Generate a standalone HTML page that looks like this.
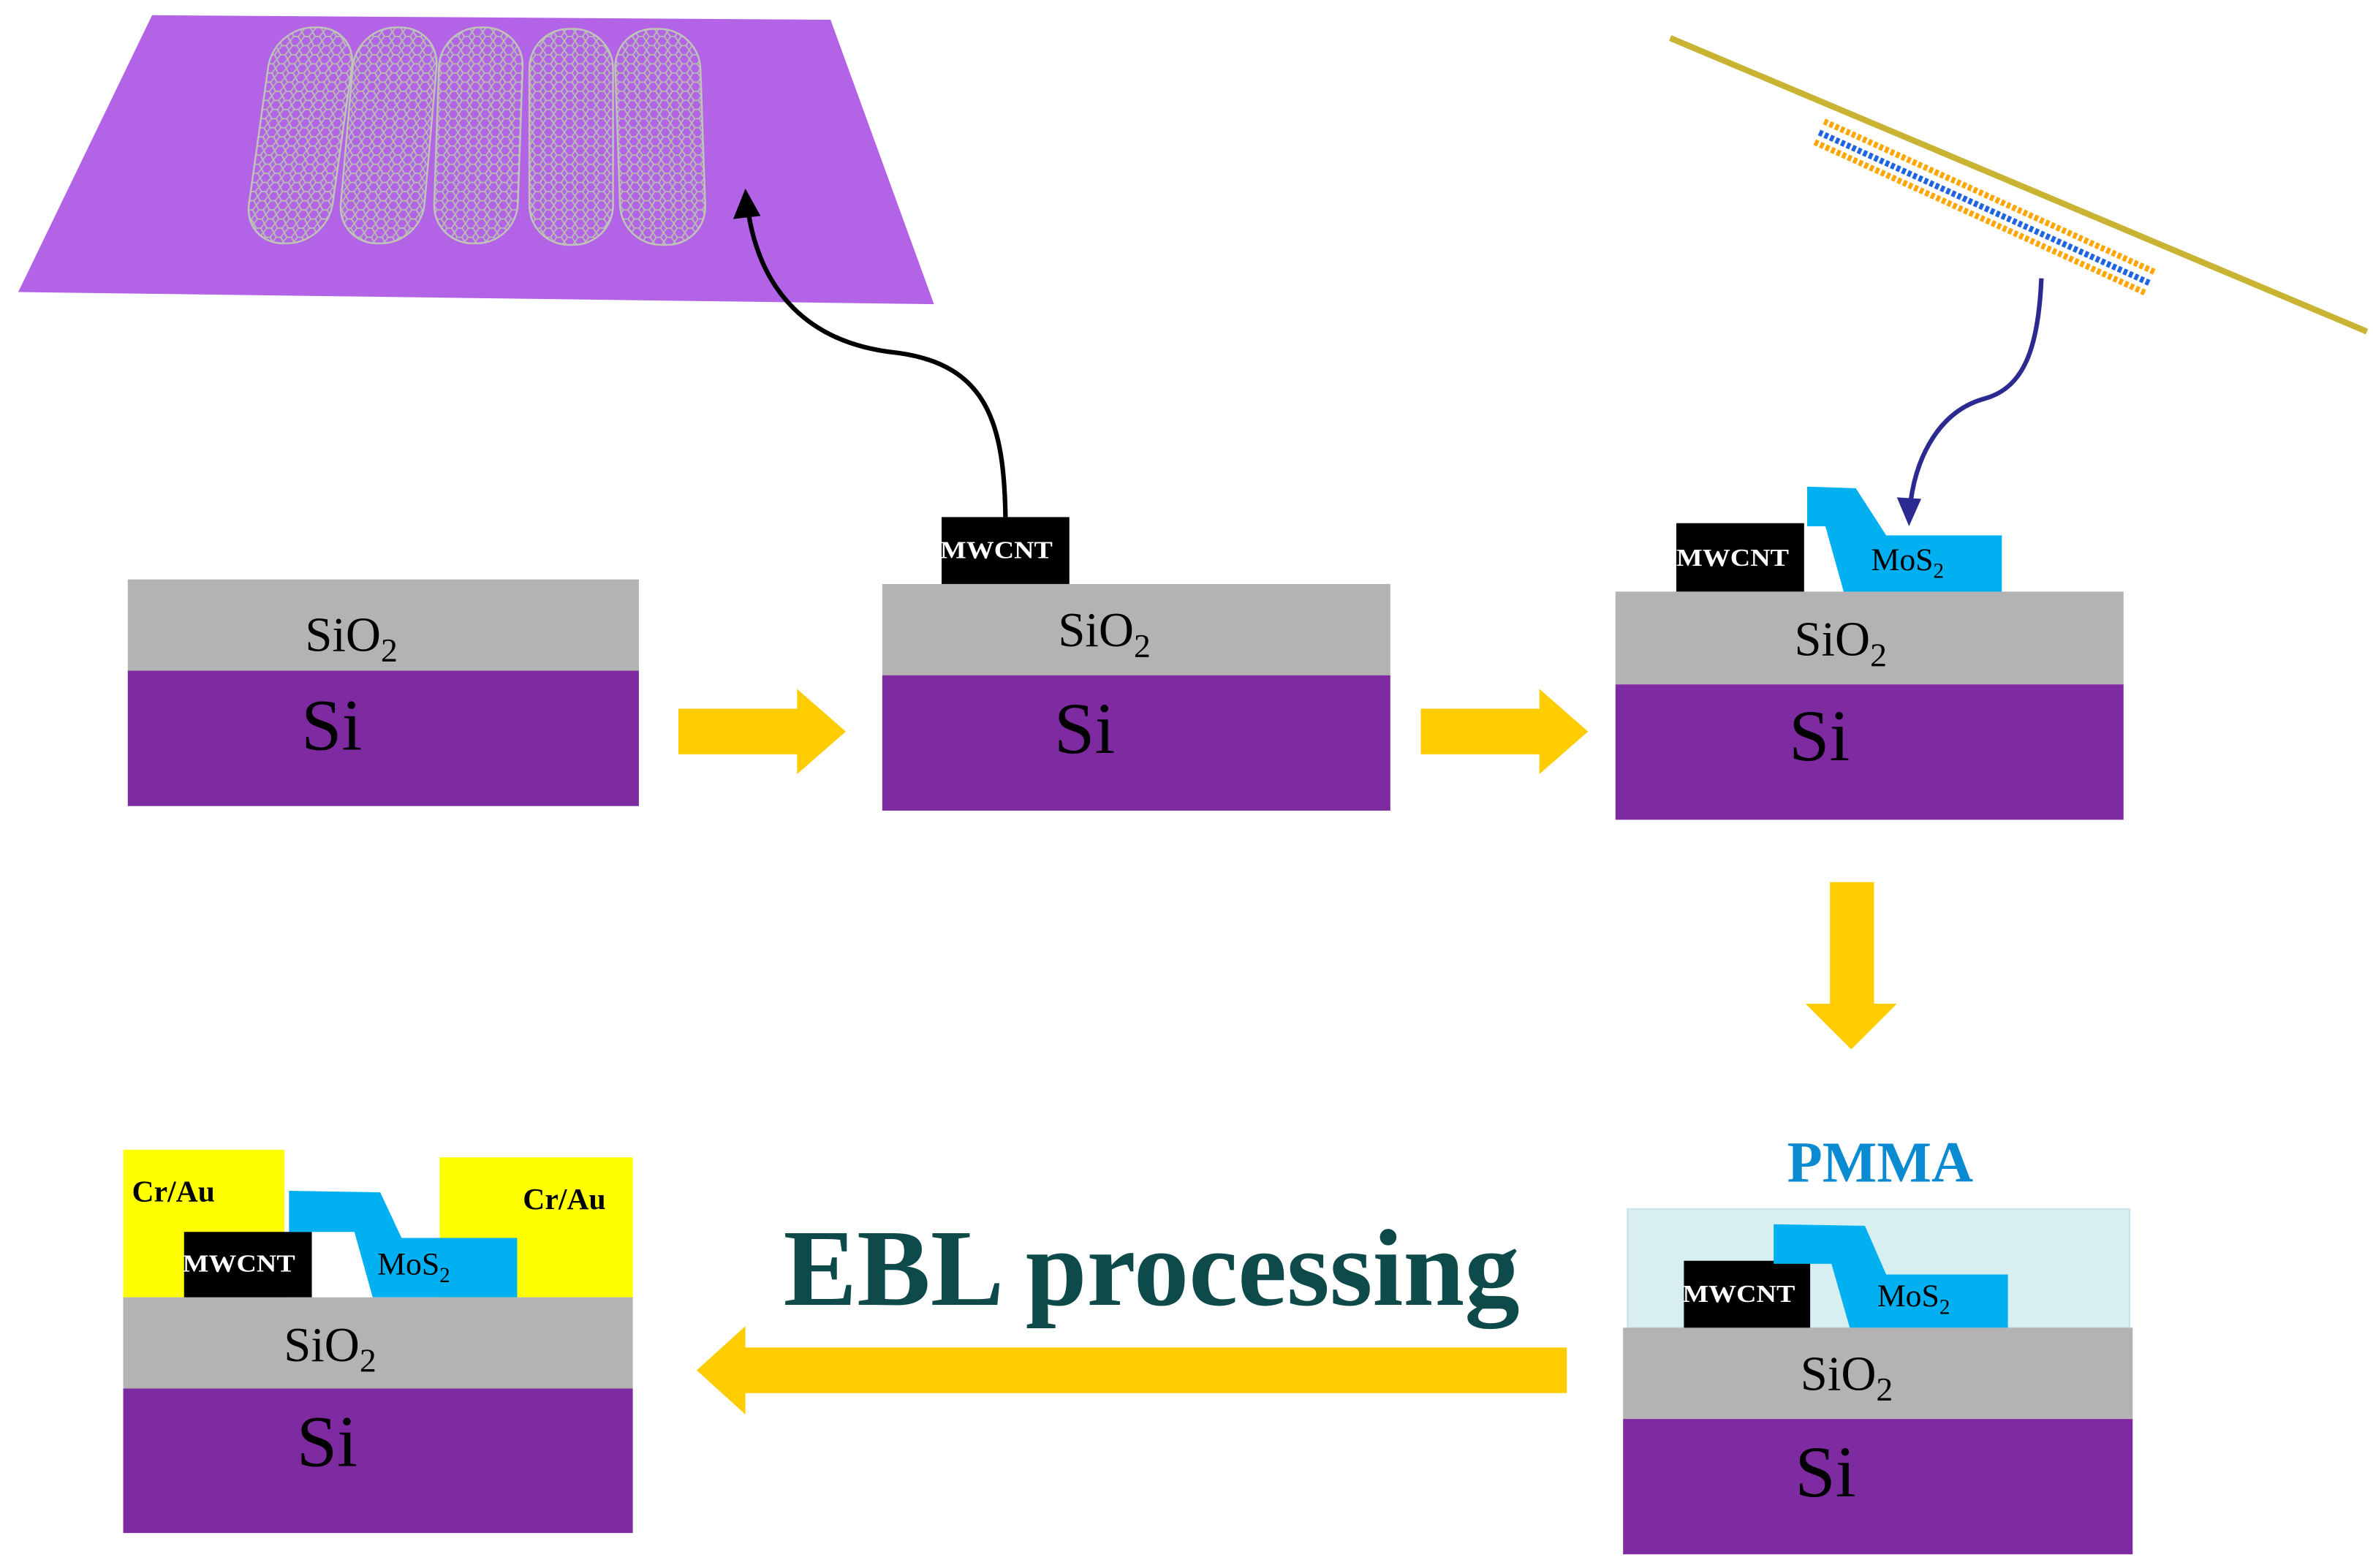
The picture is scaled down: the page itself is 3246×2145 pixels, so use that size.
<!DOCTYPE html>
<html><head><style>html,body{margin:0;padding:0;background:#fff}svg{display:block}</style></head>
<body>
<svg width="3246" height="2145" viewBox="0 0 1560 1031" preserveAspectRatio="none" xmlns="http://www.w3.org/2000/svg" font-family="Liberation Serif, serif">
<defs>
<pattern id="hex" width="7" height="6" patternUnits="userSpaceOnUse">
<path d="M0 3 L2 0 L5 0 L7 3 L5 6 L2 6 Z" fill="none" stroke="#b8bcb0" stroke-width="0.9"/>
</pattern>
<pattern id="stripeO" width="4" height="6" patternUnits="userSpaceOnUse"><rect width="2.5" height="6" fill="#ffa500"/></pattern>
<pattern id="stripeB" width="4" height="6" patternUnits="userSpaceOnUse"><rect width="2.5" height="6" fill="#1e64e0"/></pattern>
</defs>
<polygon points="100,10 546,13 614,200 12,192" fill="#b263e6"/>
<g fill="url(#hex)" stroke="#c0c4b8" stroke-width="1.2">
<rect x="170" y="18" width="55" height="142" rx="26" transform="translate(197,89) skewX(-8) translate(-197,-89)"/>
<rect x="228" y="18" width="55" height="142" rx="26" transform="translate(255,89) skewX(-5) translate(-255,-89)"/>
<rect x="287" y="18" width="55" height="142" rx="26" transform="translate(314,89) skewX(-2) translate(-314,-89)"/>
<rect x="348" y="19" width="55" height="142" rx="26"/>
<rect x="406" y="19" width="56" height="142" rx="26" transform="translate(434,89) skewX(2) translate(-434,-89)"/>
</g>
<path d="M661,340 C660,280 650,240 590,232 C530,226 500,190 492,140" fill="none" stroke="#000" stroke-width="3"/>
<polygon points="490,124 482,144 500,142" fill="#000"/>
<line x1="1098" y1="25" x2="1556" y2="218" stroke="#c8b432" stroke-width="4"/>
<g transform="translate(1200,78) rotate(24.5)">
<rect x="0" y="0" width="240" height="4" fill="url(#stripeO)"/>
<rect x="0" y="8" width="240" height="4" fill="url(#stripeB)"/>
<rect x="0" y="15" width="240" height="4" fill="url(#stripeO)"/>
</g>
<path d="M1342,183 C1340,230 1330,255 1305,262 C1275,270 1260,300 1256,330" fill="none" stroke="#2a2a90" stroke-width="3"/>
<polygon points="1255,346 1247,327 1263,328" fill="#2a2a90"/>

<rect x="84" y="381" width="336" height="60" fill="#b3b3b3"/>
<rect x="84" y="441" width="336" height="89" fill="#7e2aa0"/>
<text x="231" y="428" font-size="32" text-anchor="middle">SiO<tspan font-size="22" dy="7">2</tspan></text>
<text x="218" y="493" font-size="48" text-anchor="middle">Si</text>
<polygon points="446,466 524,466 524,453 556,481 524,509 524,496 446,496" fill="#ffcc00"/>
<rect x="580" y="384" width="334" height="60" fill="#b3b3b3"/>
<rect x="580" y="444" width="334" height="89" fill="#7e2aa0"/>
<rect x="619" y="340" width="84" height="44" fill="#000"/>
<text x="655" y="367" font-size="16" font-weight="bold" fill="#fff" text-anchor="middle" textLength="74" lengthAdjust="spacingAndGlyphs">MWCNT</text>
<text x="726" y="425" font-size="32" text-anchor="middle">SiO<tspan font-size="22" dy="7">2</tspan></text>
<text x="713" y="495" font-size="48" text-anchor="middle">Si</text>
<polygon points="934,466 1012,466 1012,453 1044,481 1012,509 1012,496 934,496" fill="#ffcc00"/>
<rect x="1062" y="389" width="334" height="61" fill="#b3b3b3"/>
<rect x="1062" y="450" width="334" height="89" fill="#7e2aa0"/>
<rect x="1102" y="344" width="84" height="45" fill="#000"/>
<text x="1139" y="372" font-size="16" font-weight="bold" fill="#fff" text-anchor="middle" textLength="74" lengthAdjust="spacingAndGlyphs">MWCNT</text>
<polygon points="1188,320 1220,321 1240,352 1316,352 1316,389 1212,389 1200,346 1188,346" fill="#00b0f0"/>
<text x="1254" y="375" font-size="21" text-anchor="middle">MoS<tspan font-size="14" dy="5">2</tspan></text>
<text x="1210" y="431" font-size="32" text-anchor="middle">SiO<tspan font-size="22" dy="7">2</tspan></text>
<text x="1196" y="500" font-size="48" text-anchor="middle">Si</text>
<polygon points="1203,580 1232,580 1232,660 1247,660 1217,690 1187,660 1203,660" fill="#ffcc00"/>
<text x="1236" y="777" font-size="38" font-weight="bold" fill="#0a8ad0" text-anchor="middle">PMMA</text>
<rect x="1070" y="795" width="330" height="78" fill="#d8eff2" stroke="#c8e4ea" stroke-width="1"/>
<rect x="1067" y="873" width="335" height="60" fill="#b3b3b3"/>
<rect x="1067" y="933" width="335" height="89" fill="#7e2aa0"/>
<rect x="1107" y="829" width="83" height="44" fill="#000"/>
<text x="1143" y="856" font-size="16" font-weight="bold" fill="#fff" text-anchor="middle" textLength="74" lengthAdjust="spacingAndGlyphs">MWCNT</text>
<polygon points="1166,805 1226,806 1240,838 1320,838 1320,873 1216,873 1204,831 1166,831" fill="#00b0f0"/>
<text x="1258" y="859" font-size="21" text-anchor="middle">MoS<tspan font-size="14" dy="5">2</tspan></text>
<text x="1214" y="914" font-size="32" text-anchor="middle">SiO<tspan font-size="22" dy="7">2</tspan></text>
<text x="1200" y="984" font-size="48" text-anchor="middle">Si</text>
<polygon points="1030,886 490,886 490,872 458,901 490,930 490,916 1030,916" fill="#ffcc00"/>
<text x="757" y="858" font-size="72" font-weight="bold" fill="#0f4a4a" text-anchor="middle" textLength="484" lengthAdjust="spacingAndGlyphs">EBL processing</text>
<rect x="81" y="756" width="106" height="97" fill="#ffff00"/>
<rect x="289" y="761" width="127" height="92" fill="#ffff00"/>
<rect x="81" y="853" width="335" height="60" fill="#b3b3b3"/>
<rect x="81" y="913" width="335" height="95" fill="#7e2aa0"/>
<rect x="187" y="800" width="102" height="53" fill="#fff"/>
<rect x="121" y="810" width="84" height="43" fill="#000"/>
<text x="157" y="836" font-size="16" font-weight="bold" fill="#fff" text-anchor="middle" textLength="74" lengthAdjust="spacingAndGlyphs">MWCNT</text>
<polygon points="190,783 250,784 264,814 340,814 340,853 245,853 233,810 190,810" fill="#00b0f0"/>
<text x="272" y="838" font-size="21" text-anchor="middle">MoS<tspan font-size="14" dy="5">2</tspan></text>
<text x="114" y="790" font-size="20" font-weight="bold" text-anchor="middle">Cr/Au</text>
<text x="371" y="795" font-size="20" font-weight="bold" text-anchor="middle">Cr/Au</text>
<text x="217" y="895" font-size="32" text-anchor="middle">SiO<tspan font-size="22" dy="7">2</tspan></text>
<text x="215" y="964" font-size="48" text-anchor="middle">Si</text>
</svg>
</body></html>
